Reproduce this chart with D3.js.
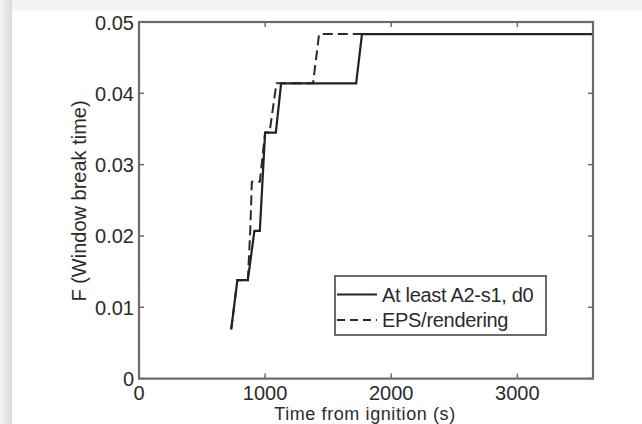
<!DOCTYPE html>
<html>
<head>
<meta charset="utf-8">
<script src="https://cdn.jsdelivr.net/npm/d3@7"></script>
<style>
  html, body { margin: 0; padding: 0; background: #ffffff; }
  svg { display: block; }
  text { font-family: "Liberation Sans", Arial, sans-serif; fill: #2b2b2b; }
</style>
</head>
<body>
<svg id="chart" width="642" height="424"></svg>
<script>
// ---- data ----
const solidTime = [731, 780, 863, 915, 958, 1000, 1085, 1127, 1722, 1768, 3600];
const solidF    = [0.0069, 0.0138, 0.0138, 0.0207, 0.0207, 0.0345, 0.0345, 0.0414, 0.0414, 0.0483, 0.0483];
const dashTime  = [731, 780, 863, 882, 895, 958, 1000, 1035, 1090, 1380, 1428, 3600];
const dashF     = [0.0069, 0.0138, 0.0138, 0.0207, 0.0276, 0.0276, 0.0345, 0.0345, 0.0414, 0.0414, 0.0483, 0.0483];
const xTicks = [0, 1000, 2000, 3000];
const yTicks = [0, 0.01, 0.02, 0.03, 0.04, 0.05];
const yTickLabels = ["0", "0.01", "0.02", "0.03", "0.04", "0.05"];
const seriesNames = ["At least A2-s1, d0", "EPS/rendering"];
const xTitle = "Time from ignition (s)";
const yTitle = "F (Window break time)";

const svg = d3.select("#chart");

// page frame (photo of a printed figure)
const defs = svg.append("defs");
const lg = defs.append("linearGradient").attr("id", "shadow").attr("x1", 0).attr("x2", 1);
lg.append("stop").attr("offset", "0%").attr("stop-color", "#f3f3f3");
lg.append("stop").attr("offset", "60%").attr("stop-color", "#e6e6e6");
lg.append("stop").attr("offset", "100%").attr("stop-color", "#d9d9d9");
svg.append("rect").attr("x", 0).attr("y", 0).attr("width", 642).attr("height", 11).attr("fill", "#f4f4f4");
svg.append("rect").attr("x", 0).attr("y", 0).attr("width", 12).attr("height", 424).attr("fill", "url(#shadow)");

const L = 139, R = 593, T = 22, B = 378.6;
const x = d3.scaleLinear().domain([0, 3600]).range([L, R]);
const y = d3.scaleLinear().domain([0, 0.05]).range([B, T]);

const axisColor = "#6e6a6a";

// ticks (inside, on all four sides)
const tickLen = 5;
const g = svg.append("g");
xTicks.forEach(t => {
  g.append("line").attr("x1", x(t)).attr("x2", x(t)).attr("y1", B).attr("y2", B - tickLen)
    .attr("stroke", axisColor).attr("stroke-width", 1.5);
  g.append("line").attr("x1", x(t)).attr("x2", x(t)).attr("y1", T).attr("y2", T + tickLen)
    .attr("stroke", axisColor).attr("stroke-width", 1.5);
});
yTicks.forEach(t => {
  g.append("line").attr("x1", L).attr("x2", L + tickLen).attr("y1", y(t)).attr("y2", y(t))
    .attr("stroke", axisColor).attr("stroke-width", 1.5);
  g.append("line").attr("x1", R).attr("x2", R - tickLen).attr("y1", y(t)).attr("y2", y(t))
    .attr("stroke", axisColor).attr("stroke-width", 1.5);
});

// data lines
const line = d3.line().x(d => x(d[0])).y(d => y(d[1]));
const solidData = solidTime.map((t, i) => [t, solidF[i]]);
const dashData = dashTime.map((t, i) => [t, dashF[i]]);
svg.append("path").datum(dashData).attr("d", line).attr("fill", "none")
  .attr("stroke", "#2a2a2a").attr("stroke-width", 2).attr("stroke-dasharray", "10,5");
svg.append("path").datum(solidData).attr("d", line).attr("fill", "none")
  .attr("stroke", "#222").attr("stroke-width", 2.2);

// box
svg.append("rect").attr("x", L).attr("y", T).attr("width", R - L).attr("height", B - T)
  .attr("fill", "none").attr("stroke", axisColor).attr("stroke-width", 2.2);

// tick labels
const fs = 20;
xTicks.forEach(t => {
  svg.append("text").attr("x", x(t)).attr("y", 400).attr("text-anchor", "middle")
    .attr("font-size", fs).text(String(t));
});
yTicks.forEach((t, i) => {
  svg.append("text").attr("x", 134).attr("y", y(t) + 7.5).attr("text-anchor", "end")
    .attr("font-size", fs).text(yTickLabels[i]);
});

// axis titles
svg.append("text").attr("x", 365).attr("y", 419.5).attr("text-anchor", "middle")
  .attr("font-size", 18).attr("letter-spacing", 0.6).text(xTitle);
svg.append("text").attr("transform", "translate(85.5,201) rotate(-90)").attr("text-anchor", "middle")
  .attr("font-size", fs).text(yTitle);

// legend
const lgx = 335, lgy = 276, lgw = 211, lgh = 59;
svg.append("rect").attr("x", lgx).attr("y", lgy).attr("width", lgw).attr("height", lgh)
  .attr("fill", "#fff").attr("stroke", axisColor).attr("stroke-width", 2);
svg.append("line").attr("x1", 337).attr("x2", 377).attr("y1", 294.5).attr("y2", 294.5)
  .attr("stroke", "#222").attr("stroke-width", 2.2);
svg.append("line").attr("x1", 337).attr("x2", 377).attr("y1", 320).attr("y2", 320)
  .attr("stroke", "#2a2a2a").attr("stroke-width", 2).attr("stroke-dasharray", "8,5");
svg.append("text").attr("x", 382).attr("y", 301.5).attr("font-size", fs)
  .attr("letter-spacing", -0.3).text(seriesNames[0]);
svg.append("text").attr("x", 382).attr("y", 326.5).attr("font-size", fs)
  .attr("letter-spacing", -0.3).text(seriesNames[1]);
</script>
</body>
</html>
